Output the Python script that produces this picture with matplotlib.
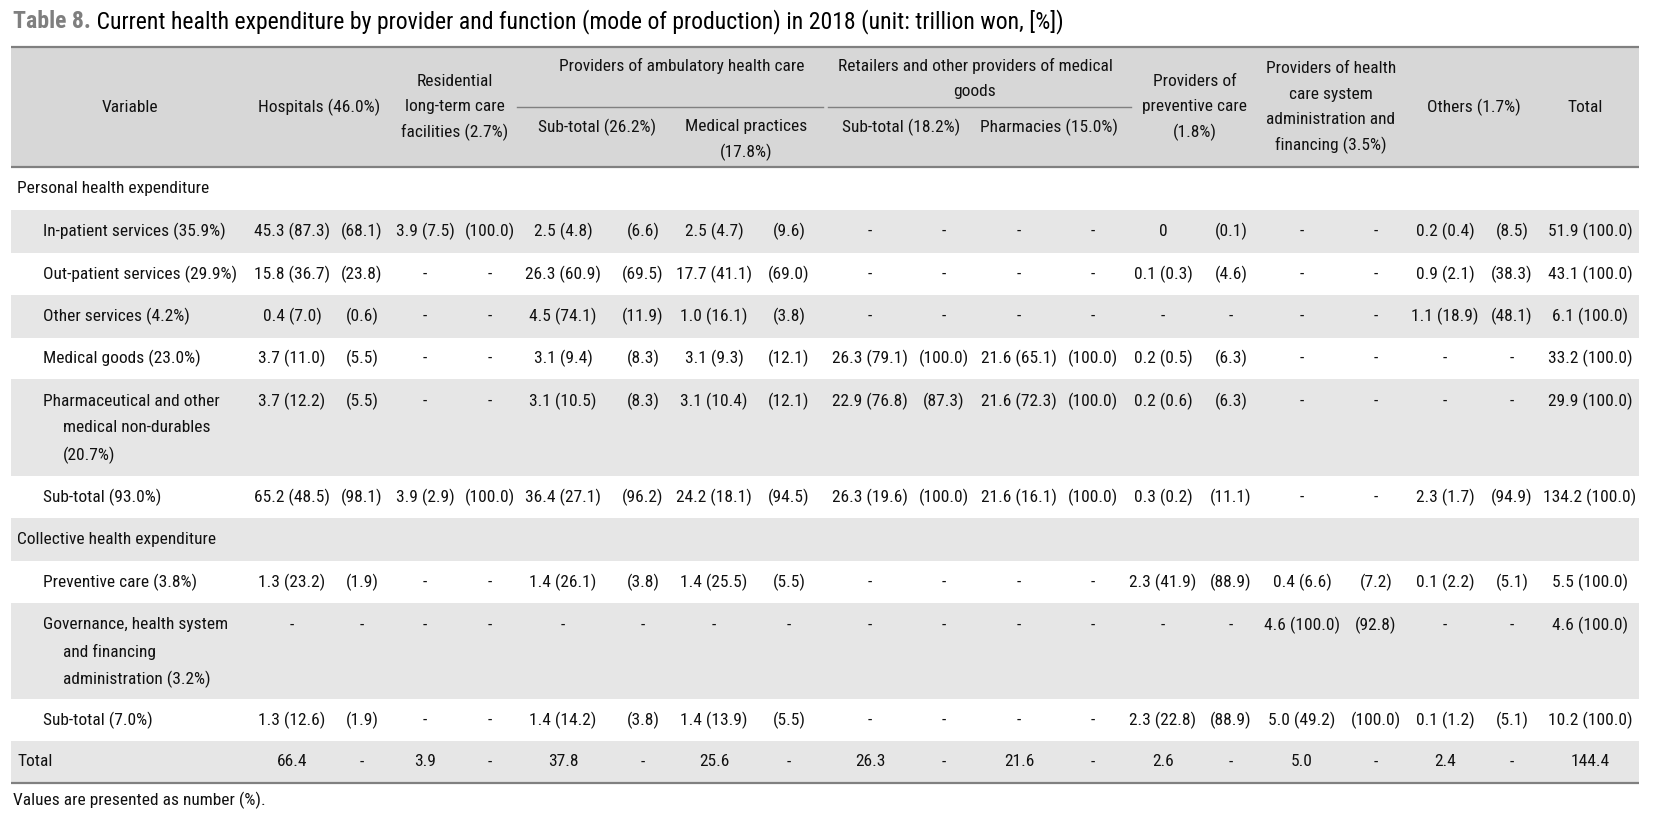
import matplotlib
matplotlib.use("Agg")
import matplotlib.pyplot as plt
from matplotlib import font_manager as fm

# ---------------- data ----------------
title_bold = "Table 8."
title_rest = " Current health expenditure by provider and function (mode of production) in 2018 (unit: trillion won, [%])"
footnote = "Values are presented as number (%)."

header_single = ["Variable", "Hospitals (46.0%)", "Residential\nlong-term care\nfacilities (2.7%)",
                 "Providers of\npreventive care\n(1.8%)",
                 "Providers of health\ncare system\nadministration and\nfinancing (3.5%)",
                 "Others (1.7%)", "Total"]
header_group = ["Providers of ambulatory health care", "Retailers and other providers of medical\ngoods"]
header_sub = ["Sub-total (26.2%)", "Medical practices\n(17.8%)", "Sub-total (18.2%)", "Pharmacies (15.0%)"]

row_labels = ["Personal health expenditure",
              "In-patient services (35.9%)",
              "Out-patient services (29.9%)",
              "Other services (4.2%)",
              "Medical goods (23.0%)",
              "Pharmaceutical and other\nmedical non-durables\n(20.7%)",
              "Sub-total (93.0%)",
              "Collective health expenditure",
              "Preventive care (3.8%)",
              "Governance, health system\nand financing\nadministration (3.2%)",
              "Sub-total (7.0%)",
              "Total"]
row_is_group = [True, False, False, False, False, False, False, True, False, False, False, True]
row_shaded = [False, True, False, True, False, True, False, True, False, True, False, True]

personal = [""] * 19
inpatient = ["45.3 (87.3)", "(68.1)", "3.9 (7.5)", "(100.0)", "2.5 (4.8)", "(6.6)", "2.5 (4.7)", "(9.6)",
             "-", "-", "-", "-", "0", "(0.1)", "-", "-", "0.2 (0.4)", "(8.5)", "51.9 (100.0)"]
outpatient = ["15.8 (36.7)", "(23.8)", "-", "-", "26.3 (60.9)", "(69.5)", "17.7 (41.1)", "(69.0)",
              "-", "-", "-", "-", "0.1 (0.3)", "(4.6)", "-", "-", "0.9 (2.1)", "(38.3)", "43.1 (100.0)"]
other_services = ["0.4 (7.0)", "(0.6)", "-", "-", "4.5 (74.1)", "(11.9)", "1.0 (16.1)", "(3.8)",
                  "-", "-", "-", "-", "-", "-", "-", "-", "1.1 (18.9)", "(48.1)", "6.1 (100.0)"]
medical_goods = ["3.7 (11.0)", "(5.5)", "-", "-", "3.1 (9.4)", "(8.3)", "3.1 (9.3)", "(12.1)",
                 "26.3 (79.1)", "(100.0)", "21.6 (65.1)", "(100.0)", "0.2 (0.5)", "(6.3)", "-", "-", "-", "-", "33.2 (100.0)"]
pharmaceutical = ["3.7 (12.2)", "(5.5)", "-", "-", "3.1 (10.5)", "(8.3)", "3.1 (10.4)", "(12.1)",
                  "22.9 (76.8)", "(87.3)", "21.6 (72.3)", "(100.0)", "0.2 (0.6)", "(6.3)", "-", "-", "-", "-", "29.9 (100.0)"]
personal_subtotal = ["65.2 (48.5)", "(98.1)", "3.9 (2.9)", "(100.0)", "36.4 (27.1)", "(96.2)", "24.2 (18.1)", "(94.5)",
                     "26.3 (19.6)", "(100.0)", "21.6 (16.1)", "(100.0)", "0.3 (0.2)", "(11.1)", "-", "-", "2.3 (1.7)", "(94.9)", "134.2 (100.0)"]
collective = [""] * 19
preventive = ["1.3 (23.2)", "(1.9)", "-", "-", "1.4 (26.1)", "(3.8)", "1.4 (25.5)", "(5.5)",
              "-", "-", "-", "-", "2.3 (41.9)", "(88.9)", "0.4 (6.6)", "(7.2)", "0.1 (2.2)", "(5.1)", "5.5 (100.0)"]
governance = ["-", "-", "-", "-", "-", "-", "-", "-",
              "-", "-", "-", "-", "-", "-", "4.6 (100.0)", "(92.8)", "-", "-", "4.6 (100.0)"]
collective_subtotal = ["1.3 (12.6)", "(1.9)", "-", "-", "1.4 (14.2)", "(3.8)", "1.4 (13.9)", "(5.5)",
                       "-", "-", "-", "-", "2.3 (22.8)", "(88.9)", "5.0 (49.2)", "(100.0)", "0.1 (1.2)", "(5.1)", "10.2 (100.0)"]
total_row = ["66.4", "-", "3.9", "-", "37.8", "-", "25.6", "-",
             "26.3", "-", "21.6", "-", "2.6", "-", "5.0", "-", "2.4", "-", "144.4"]

table_rows = [personal, inpatient, outpatient, other_services, medical_goods, pharmaceutical,
              personal_subtotal, collective, preventive, governance, collective_subtotal, total_row]

# ---------------- layout (pixels) ----------------
W, H = 1653, 826
fig = plt.figure(figsize=(W / 100, H / 100), dpi=100)
ax = fig.add_axes([0, 0, 1, 1])
ax.set_xlim(0, W)
ax.set_ylim(H, 0)
ax.axis("off")

avail = {f.name for f in fm.fontManager.ttflist}
fam = "DejaVu Sans"
for cand in ["Roboto Condensed", "Archivo Narrow", "PT Sans Narrow", "Pragati Narrow", "Liberation Sans Narrow"]:
    if cand in avail:
        fam = cand
        break

renderer = fig.canvas.get_renderer()


def text_width(s, size, **kw):
    t = ax.text(0, 0, s, fontsize=size, family=fam, **kw)
    w = t.get_window_extent(renderer=renderer).width
    t.remove()
    return w


# calibrate font size on space-free words measured in the reference (slightly enlarged,
# since the reference face is narrower/taller than the available condensed face)
calib = [("In-patient", 63.0), ("(100.0)", 45.0), ("26.3", 29.0), ("(79.1)", 36.0)]
scales = [10 * w / text_width(s, 10) for s, w in calib]
FS = 1.07 * sum(scales) / len(scales)
FS_T = 10 * 1047.0 / (text_width(title_bold, 10, weight="bold") + text_width(title_rest, 10))
TXT = "#111111"

x_left, x_right = 11, 1639
header_top, header_mid, header_bot = 47, 107, 167
line_sp = 27

col_x = [292, 362, 425, 490, 563, 643, 714, 789, 870, 944,
         1019, 1093, 1163, 1231, 1302, 1376, 1445, 1512, 1590]

row_tops = [167, 210, 253, 295, 338, 379, 476, 518, 561, 603, 699, 741]
row_bots = row_tops[1:] + [783]

ax.add_patch(plt.Rectangle((x_left, header_top), x_right - x_left, header_bot - header_top,
                           facecolor="#d7d7d7", edgecolor="none", zorder=0))
for top, bot, sh in zip(row_tops, row_bots, row_shaded):
    if sh:
        ax.add_patch(plt.Rectangle((x_left, top), x_right - x_left, bot - top,
                                   facecolor="#e6e6e6", edgecolor="none", zorder=0))

for y in (header_top, header_bot, 783):
    ax.plot([x_left, x_right], [y, y], color="#808080", lw=1.6, zorder=2, solid_capstyle="butt")
ax.plot([517, 823], [header_mid, header_mid], color="#808080", lw=1.0, zorder=2)
ax.plot([828, 1131], [header_mid, header_mid], color="#808080", lw=1.0, zorder=2)

# title
t1 = ax.text(13, 22, title_bold, fontsize=FS_T, family=fam, weight="bold", color="#7f7f7f",
             ha="left", va="center")
bw = t1.get_window_extent(renderer=renderer).width
ax.text(13 + bw, 22, title_rest, fontsize=FS_T, family=fam, color="#000000",
        ha="left", va="center")


def multiline(x, ycenter, s, ha="center"):
    parts = s.split("\n")
    n = len(parts)
    for k, p in enumerate(parts):
        y = ycenter + (k - (n - 1) / 2) * (line_sp - 1.5)
        ax.text(x, y, p, fontsize=FS, family=fam, color=TXT, ha=ha, va="center")


hdr_mid_y = (header_top + header_bot) / 2
single_x = [130, 319, 455, 1195, 1331, 1474, 1585]
for x, s in zip(single_x, header_single):
    multiline(x, hdr_mid_y, s)
for x, s in zip([682, 975], header_group):
    n = s.count("\n") + 1
    multiline(x, 66 + (n - 1) * (line_sp - 1.5) / 2, s)
for x, s in zip([597, 746, 901, 1049], header_sub):
    n = s.count("\n") + 1
    multiline(x, 127 + (n - 1) * (line_sp - 1.5) / 2, s)

# body
for i, (label, cells) in enumerate(zip(row_labels, table_rows)):
    top, bot = row_tops[i], row_bots[i]
    parts = label.split("\n")
    ytext = (top + bot) / 2 if len(parts) == 1 else top + 22
    lx = 17 if row_is_group[i] else 43
    for k, p in enumerate(parts):
        ax.text(lx + (0 if k == 0 else 20), ytext + k * line_sp, p,
                fontsize=FS, family=fam, color=TXT, ha="left", va="center")
    for x, c in zip(col_x, cells):
        if c:
            ax.text(x, ytext, c, fontsize=FS, family=fam, color=TXT, ha="center", va="center")

ax.text(13, 800, footnote, fontsize=FS, family=fam, color=TXT, ha="left", va="center")

fig.savefig("out.png", dpi=100)
